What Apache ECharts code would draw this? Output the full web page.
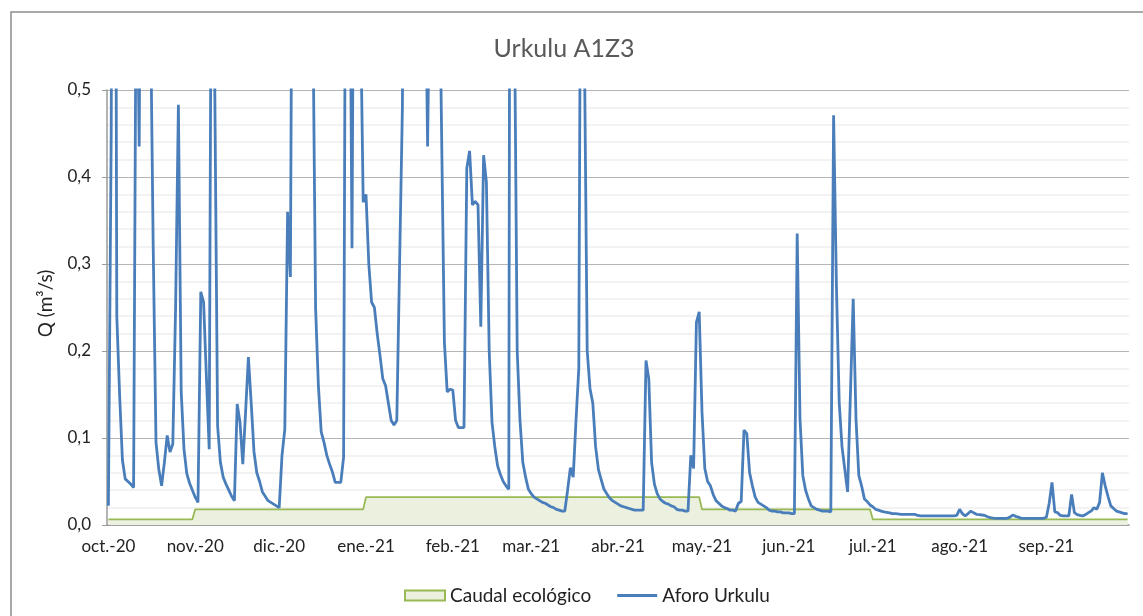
<!DOCTYPE html>
<html>
<head>
<meta charset="utf-8">
<title>Urkulu A1Z3</title>
<script src="https://cdn.jsdelivr.net/npm/echarts@6/dist/echarts.min.js"></script>
<style>
    html, body { margin: 0; padding: 0; background: #fff; }
    #urkulu { width: 1143px; height: 616px; }
</style>
</head>
<body>
<div id="urkulu"></div>
<script>
// caudal diario aforado (m3/s), un array por mes, oct.-20 a sep.-21
var aforoOct = [0.022, 0.45, 1.5, 0.24, 0.15, 0.075, 0.053, 0.05, 0.047, 0.043,
    0.7, 0.435, 1.0, 1.2, 0.9, 0.6, 0.32, 0.095, 0.064, 0.045,
    0.072, 0.103, 0.084, 0.093, 0.25, 0.483, 0.153, 0.087, 0.059, 0.048,
    0.04];
var aforoNov = [0.032, 0.026, 0.268, 0.256, 0.17, 0.087, 0.9, 0.5, 0.114, 0.072,
    0.055, 0.047, 0.04, 0.033, 0.028, 0.139, 0.118, 0.07, 0.13, 0.193,
    0.14, 0.084, 0.06, 0.05, 0.038, 0.033, 0.028, 0.026, 0.024, 0.022];
var aforoDic = [0.02, 0.08, 0.11, 0.36, 0.285, 1.0, 1.3, 1.5, 1.2, 1.0,
    0.9, 0.8, 0.6, 0.249, 0.16, 0.107, 0.095, 0.08, 0.07, 0.061,
    0.049, 0.049, 0.049, 0.078, 1.0, 0.8, 0.318, 1.0, 1.2, 0.6,
    0.371];
var aforoEne = [0.38, 0.3, 0.256, 0.25, 0.22, 0.195, 0.168, 0.16, 0.14, 0.12,
    0.115, 0.12, 0.3, 0.48, 1.0, 1.2, 1.4, 1.2, 1.0, 0.9,
    0.8, 0.7, 0.435, 0.7, 0.9, 0.8, 0.7, 0.45, 0.21, 0.153,
    0.156];
var aforoFeb = [0.155, 0.12, 0.112, 0.112, 0.112, 0.41, 0.43, 0.368, 0.372, 0.368,
    0.228, 0.425, 0.394, 0.2, 0.118, 0.09, 0.068, 0.058, 0.05, 0.045,
    0.041, 2.0, 0.6, 0.2, 0.12, 0.072, 0.055, 0.041];
var aforoMar = [0.036, 0.032, 0.03, 0.028, 0.026, 0.025, 0.023, 0.021, 0.02, 0.018,
    0.017, 0.016, 0.016, 0.04, 0.066, 0.055, 0.12, 0.18, 1.0, 0.55,
    0.2, 0.157, 0.14, 0.09, 0.064, 0.052, 0.041, 0.036, 0.031, 0.028,
    0.026];
var aforoAbr = [0.024, 0.022, 0.021, 0.02, 0.019, 0.018, 0.017, 0.017, 0.017, 0.017,
    0.189, 0.168, 0.072, 0.047, 0.036, 0.03, 0.027, 0.025, 0.024, 0.022,
    0.021, 0.018, 0.017, 0.017, 0.016, 0.016, 0.08, 0.065, 0.233, 0.245];
var aforoMay = [0.13, 0.065, 0.05, 0.045, 0.035, 0.028, 0.025, 0.022, 0.02, 0.019,
    0.017, 0.017, 0.016, 0.025, 0.027, 0.109, 0.105, 0.06, 0.045, 0.032,
    0.026, 0.024, 0.022, 0.02, 0.017, 0.016, 0.016, 0.015, 0.015, 0.014,
    0.014];
var aforoJun = [0.014, 0.013, 0.013, 0.335, 0.122, 0.057, 0.04, 0.03, 0.022, 0.02,
    0.018, 0.017, 0.016, 0.016, 0.016, 0.015, 0.471, 0.276, 0.141, 0.09,
    0.064, 0.038, 0.15, 0.26, 0.122, 0.057, 0.045, 0.03, 0.027, 0.023];
var aforoJul = [0.021, 0.018, 0.017, 0.016, 0.015, 0.0146, 0.014, 0.013, 0.013, 0.0127,
    0.0123, 0.0123, 0.0123, 0.0123, 0.0123, 0.0123, 0.011, 0.0104, 0.0104, 0.0104,
    0.0104, 0.0104, 0.0104, 0.0104, 0.0104, 0.0104, 0.0104, 0.0104, 0.0104, 0.0104,
    0.011];
var aforoAgo = [0.018, 0.013, 0.0104, 0.013, 0.016, 0.014, 0.0123, 0.012, 0.0115, 0.011,
    0.0095, 0.0084, 0.008, 0.0077, 0.0077, 0.0077, 0.0077, 0.0077, 0.009, 0.0115,
    0.01, 0.009, 0.0077, 0.0077, 0.0077, 0.0077, 0.0077, 0.0077, 0.0077, 0.0077,
    0.0077];
var aforoSep = [0.009, 0.025, 0.049, 0.015, 0.0142, 0.011, 0.0104, 0.0104, 0.0104, 0.035,
    0.0142, 0.012, 0.011, 0.0104, 0.012, 0.0142, 0.016, 0.02, 0.018, 0.026,
    0.06, 0.045, 0.033, 0.022, 0.019, 0.016, 0.015, 0.014, 0.013, 0.013];

// caudal ecologico por mes (m3/s), de octubre a septiembre
var caudalMes = [0.0065, 0.018, 0.018, 0.032, 0.032, 0.032, 0.032, 0.018, 0.018, 0.0065, 0.0065, 0.0065];

var mesesAbr = ['ene.', 'feb.', 'mar.', 'abr.', 'may.', 'jun.', 'jul.', 'ago.', 'sep.', 'oct.', 'nov.', 'dic.'];
var yTicks = [0, 0.1, 0.2, 0.3, 0.4, 0.5];

function urkulu() {
    var myChart = echarts.init(document.getElementById('urkulu'));

    var aforo = [].concat(aforoOct, aforoNov, aforoDic, aforoEne, aforoFeb, aforoMar,
        aforoAbr, aforoMay, aforoJun, aforoJul, aforoAgo, aforoSep);

    // un dia por categoria, desde el 1 de octubre de 2020
    var fechas = [];
    var caudal = [];
    var inicio = Date.UTC(2020, 9, 1);
    for (var i = 0; i < aforo.length; i++) {
        var f = new Date(inicio + i * 86400000);
        fechas.push(f.toISOString().slice(0, 10));
        caudal.push(caudalMes[(f.getUTCMonth() + 3) % 12]);
    }

    function inicioMes(index, value) {
        return value.slice(8, 10) === '01';
    }

    var fuente = 'Lato, "Open Sans", sans-serif';

    var option = {
        animation: false,
        title: {
            text: 'Urkulu A1Z3',
            left: 559,
            textAlign: 'center',
            top: 31,
            textStyle: {
                fontFamily: fuente,
                fontSize: 25,
                fontWeight: 'normal',
                color: '#595959'
            }
        },
        legend: {
            left: 399,
            top: 581,
            itemWidth: 40,
            itemHeight: 10,
            itemGap: 26,
            textStyle: {
                fontFamily: fuente,
                fontSize: 19,
                color: '#222'
            },
            data: [
                {
                    name: 'Caudal ecológico',
                    icon: 'rect',
                    itemStyle: {
                        color: '#ebf1de',
                        borderColor: '#98b954',
                        borderWidth: 2
                    }
                },
                {
                    name: 'Aforo Urkulu',
                    icon: 'path://M0,0 L40,0 L40,2.8 L0,2.8 Z',
                    itemStyle: { color: '#4a7ebb' }
                }
            ]
        },
        grid: {
            left: 107,
            right: 14,
            top: 90,
            bottom: 91
        },
        graphic: [{
            type: 'rect',
            shape: { x: 11, y: 12, width: 1200, height: 700 },
            style: { fill: 'none', stroke: '#8c8c8c', lineWidth: 1.5 },
            silent: true
        }],
        xAxis: {
            type: 'category',
            data: fechas,
            boundaryGap: true,
            axisLine: {
                lineStyle: { color: '#9a9a9a', width: 1.5 }
            },
            axisTick: {
                interval: inicioMes,
                length: 5,
                lineStyle: { color: '#9a9a9a' }
            },
            axisLabel: {
                interval: inicioMes,
                margin: 13,
                fontFamily: fuente,
                fontSize: 17,
                color: '#222',
                formatter: function (value) {
                    var mes = parseInt(value.slice(5, 7), 10) - 1;
                    return mesesAbr[mes] + '-' + value.slice(2, 4);
                }
            },
            splitLine: { show: false }
        },
        yAxis: {
            type: 'value',
            min: yTicks[0],
            max: yTicks[yTicks.length - 1],
            interval: 0.1,
            name: 'Q (m³/s)',
            nameLocation: 'middle',
            nameGap: 52,
            nameTextStyle: {
                fontFamily: fuente,
                fontSize: 19,
                color: '#222',
                padding: [0, 0, 0, 8]
            },
            axisLine: {
                show: true,
                lineStyle: { color: '#9a9a9a', width: 1.5 }
            },
            axisTick: {
                show: true,
                length: 5,
                lineStyle: { color: '#9a9a9a' }
            },
            axisLabel: {
                margin: 16,
                fontFamily: fuente,
                fontSize: 17,
                color: '#222',
                formatter: function (value) {
                    return value.toFixed(1).replace('.', ',');
                }
            },
            splitLine: {
                lineStyle: { color: '#b5b5b5', width: 1.2 }
            },
            minorTick: { show: false, splitNumber: 5 },
            minorSplitLine: {
                show: true,
                lineStyle: { color: '#eeeeee', width: 1.5 }
            }
        },
        series: [
            {
                name: 'Caudal ecológico',
                type: 'line',
                data: caudal,
                symbol: 'none',
                lineStyle: { color: '#98b954', width: 1.8 },
                itemStyle: { color: '#98b954' },
                areaStyle: { color: '#ebf1de', opacity: 1 },
                z: 2
            },
            {
                name: 'Aforo Urkulu',
                type: 'line',
                data: aforo,
                symbol: 'none',
                clip: true,
                lineStyle: { color: '#4a7ebb', width: 2.8 },
                itemStyle: { color: '#4a7ebb' },
                z: 3
            }
        ]
    };

    myChart.setOption(option);
    window.addEventListener('resize', function () {
        myChart.resize();
    });
}

urkulu();
</script>
</body>
</html>
